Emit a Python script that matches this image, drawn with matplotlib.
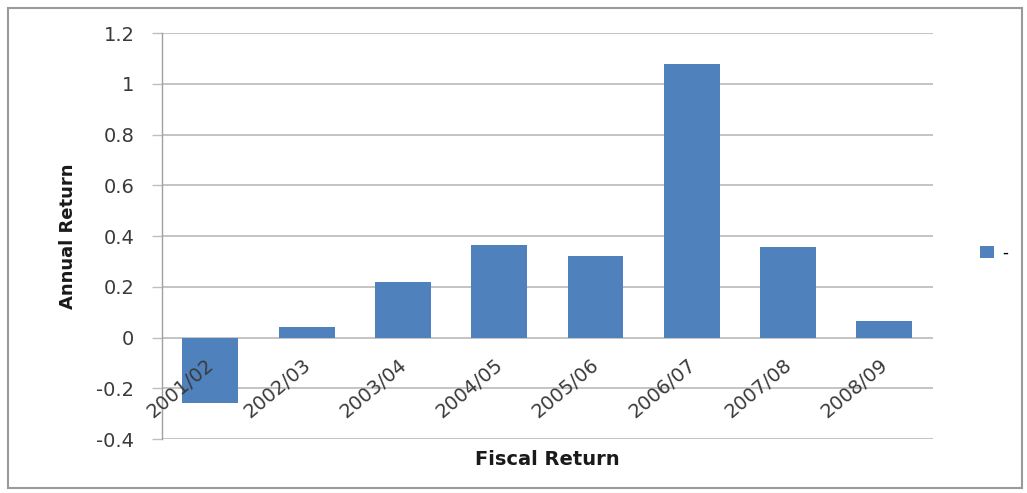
import matplotlib.pyplot as plt
from matplotlib import transforms
from matplotlib.patches import Rectangle

plt.rcParams['font.family'] = ['DejaVu Sans']

years = ['2001/02', '2002/03', '2003/04', '2004/05',
         '2005/06', '2006/07', '2007/08', '2008/09']
returns = [-0.26, 0.04, 0.22, 0.365, 0.32, 1.077, 0.355, 0.067]
yticks = [-0.4, -0.2, 0, 0.2, 0.4, 0.6, 0.8, 1, 1.2]
ytick_labels = ['-0.4', '-0.2', '0', '0.2', '0.4', '0.6', '0.8', '1', '1.2']

bar_color = '#4F81BD'
grid_color = '#BFBFBF'
text_color = '#3A3A3A'

fig = plt.figure(figsize=(10.27, 4.93), dpi=100)
ax = fig.add_axes([0.158, 0.1095, 0.75, 0.8235])

x = list(range(len(years)))
bars = ax.bar(x, returns, width=0.58, color=bar_color, label='-', zorder=3)

ax.set_xlim(-0.5, len(years) - 0.5)
ax.set_ylim(-0.4, 1.2)
ax.set_yticks(yticks)
ax.set_yticklabels(ytick_labels)
ax.tick_params(axis='y', length=7, width=1, color=grid_color, pad=13,
               labelsize=14, labelcolor=text_color)
ax.set_xticks([])
ax.yaxis.grid(True, color=grid_color, linewidth=1.3, zorder=0)

for side in ['top', 'right', 'bottom']:
    ax.spines[side].set_visible(False)
ax.spines['left'].set_color('#A0A0A0')
ax.spines['left'].set_linewidth(1)

# category labels sit just under the zero line, slanted
offset = transforms.offset_copy(ax.transData, fig=fig, x=1, y=-18, units='points')
for i, lab in enumerate(years):
    ax.text(i, 0, lab, rotation=40, ha='right', va='center',
            rotation_mode='anchor', fontsize=14, color=text_color,
            transform=offset, zorder=4)

ax.set_ylabel('Annual Return', fontsize=13, fontweight='bold', labelpad=14,
              color='#1A1A1A')
ax.text(0.5, -0.05, 'Fiscal Return', transform=ax.transAxes, ha='center',
        va='center', fontsize=14, fontweight='bold', color='#1A1A1A')

fig.legend(handles=[bars], loc='center left', bbox_to_anchor=(0.94, 0.487),
           frameon=False, handlelength=0.8, handleheight=0.7,
           handletextpad=0.5, fontsize=12)

# outer chart frame
fig.patches.append(Rectangle((0.0078, 0.0101), 0.987, 0.974, transform=fig.transFigure,
                             fill=False, edgecolor='#9A9A9A', linewidth=1.5))

fig.savefig('out.png', dpi=100)
